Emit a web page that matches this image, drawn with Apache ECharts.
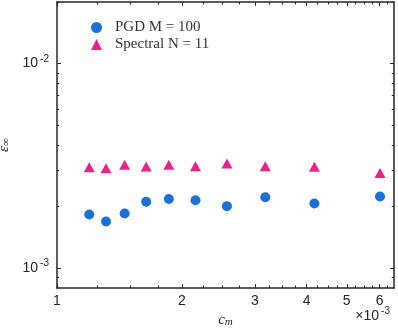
<!DOCTYPE html>
<html>
<head>
<meta charset="utf-8">
<script src="https://cdn.jsdelivr.net/npm/echarts@6/dist/echarts.min.js"></script>
<style>
  html, body { margin: 0; padding: 0; background: #fff; }
  #container { width: 398px; height: 333px; }
</style>
</head>
<body>
<div id="container"></div>
<script>
// c_m values (shared by both series)
const cm = [1.196e-3, 1.313e-3, 1.456e-3, 1.641e-3, 1.861e-3, 2.158e-3, 2.57e-3, 3.18e-3, 4.177e-3, 6.014e-3];
const pgd = [1.83e-3, 1.69e-3, 1.85e-3, 2.11e-3, 2.18e-3, 2.15e-3, 2.01e-3, 2.22e-3, 2.07e-3, 2.24e-3];
const spectral = [3.11e-3, 3.08e-3, 3.2e-3, 3.14e-3, 3.2e-3, 3.15e-3, 3.25e-3, 3.15e-3, 3.13e-3, 2.92e-3];

const xMajor = [1e-3, 2e-3, 3e-3, 4e-3, 5e-3, 6e-3];
const xMinor = [1.25e-3, 1.5e-3, 1.75e-3, 2.25e-3, 2.5e-3, 2.75e-3, 3.25e-3, 3.5e-3, 3.75e-3,
  4.25e-3, 4.5e-3, 4.75e-3, 5.25e-3, 5.5e-3, 5.75e-3, 6.25e-3];
const yMajor = [1e-3, 1e-2];
const yMinor = [9e-4, 2e-3, 3e-3, 4e-3, 5e-3, 6e-3, 7e-3, 8e-3, 9e-3, 2e-2];

const axisColor = "#262626";
const sans = "Liberation Sans";
const serif = "Liberation Serif";

const myChart = echarts.init(document.getElementById("container"), null, { renderer: "canvas" });

function makeX(position, ticks, len, withLabels, withLine) {
  return {
    type: "log",
    logBase: 10,
    position: position,
    min: 1e-3,
    max: 6.5e-3,
    axisLine: { show: withLine, lineStyle: { color: axisColor, width: 1.5 } },
    axisTick: { show: true, inside: true, length: len, customValues: ticks,
      lineStyle: { color: axisColor, width: 1 } },
    axisLabel: withLabels ? {
      show: true, customValues: ticks, margin: 6,
      fontFamily: sans, fontSize: 14, color: axisColor,
      formatter: (v) => String(Math.round(v * 1000)),
    } : { show: false },
    splitLine: { show: false },
    minorTick: { show: false },
  };
}

function makeY(position, ticks, len, withLabels, withLine) {
  return {
    type: "log",
    logBase: 10,
    position: position,
    min: 8e-4,
    max: 2e-2,
    axisLine: { show: withLine, lineStyle: { color: axisColor, width: 1.5 } },
    axisTick: { show: true, inside: true, length: len, customValues: ticks,
      lineStyle: { color: axisColor, width: 1 } },
    axisLabel: withLabels ? {
      show: true, customValues: ticks, margin: 8,
      formatter: (v) => "{b|10}{s|" + Math.round(Math.log10(v)) + "}",
      rich: {
        b: { fontFamily: sans, fontSize: 14, color: axisColor },
        s: { fontFamily: sans, fontSize: 10, color: axisColor, padding: [0, 0, 9, 2] },
      },
    } : { show: false },
    splitLine: { show: false },
    minorTick: { show: false },
  };
}

const xAxes = [
  makeX("bottom", xMajor, 4, true, true),
  makeX("bottom", xMinor, 2.5, false, false),
  makeX("top", xMajor, 4, false, true),
  makeX("top", xMinor, 2.5, false, false),
];
xAxes[0].name = "{i|c}{sub|m}";
xAxes[0].nameLocation = "middle";
xAxes[0].nameGap = 24;
xAxes[0].nameTextStyle = {
  rich: {
    i: { fontFamily: serif, fontStyle: "italic", fontSize: 15, color: axisColor },
    sub: { fontFamily: serif, fontStyle: "italic", fontSize: 11, color: axisColor, padding: [0, 0, -4, 0] },
  },
};

const yAxes = [
  makeY("left", yMajor, 4, true, true),
  makeY("left", yMinor, 2.2, false, false),
  makeY("right", yMajor, 4, false, true),
  makeY("right", yMinor, 2.2, false, false),
];
yAxes[0].name = "{i|ε}{sub|∞}";
yAxes[0].nameLocation = "middle";
yAxes[0].nameGap = 42;
yAxes[0].nameRotate = 90;
yAxes[0].nameTextStyle = {
  rich: {
    i: { fontFamily: serif, fontStyle: "italic", fontSize: 15, color: axisColor },
    sub: { fontFamily: serif, fontSize: 11, color: axisColor, padding: [0, 0, -4, 0] },
  },
};

const option = {
  backgroundColor: "#fff",
  animation: false,
  grid: { left: 57, right: 4, top: 2, bottom: 45, containLabel: false, outerBoundsMode: "none" },
  legend: {
    orient: "vertical",
    left: 86,
    top: 15,
    itemGap: 2,
    itemWidth: 11,
    itemHeight: 11,
    textStyle: { fontFamily: serif, fontSize: 15, color: "#333", padding: [0, 0, 0, 8] },
    data: [
      { name: "PGD M = 100", icon: "circle" },
      { name: "Spectral N = 11", icon: "triangle" },
    ],
  },
  xAxis: xAxes,
  yAxis: yAxes,
  graphic: [
    {
      type: "text",
      right: 8,
      top: 306,
      style: {
        text: "{b|×10}{s|-3}",
        rich: {
          b: { fontFamily: sans, fontSize: 14, fill: axisColor },
          s: { fontFamily: sans, fontSize: 10, fill: axisColor, padding: [0, 0, 10, 2] },
        },
      },
    },
  ],
  series: [
    {
      name: "PGD M = 100",
      type: "scatter",
      symbol: "circle",
      symbolSize: 10,
      itemStyle: { color: "#1a72d6", opacity: 1 },
      data: cm.map((c, i) => [c, pgd[i]]),
    },
    {
      name: "Spectral N = 11",
      type: "scatter",
      symbol: "triangle",
      symbolSize: [11, 10],
      itemStyle: { color: "#e8218b", opacity: 1 },
      data: cm.map((c, i) => [c, spectral[i]]),
    },
  ],
};

myChart.setOption(option);
window.addEventListener("resize", myChart.resize);
</script>
</body>
</html>
